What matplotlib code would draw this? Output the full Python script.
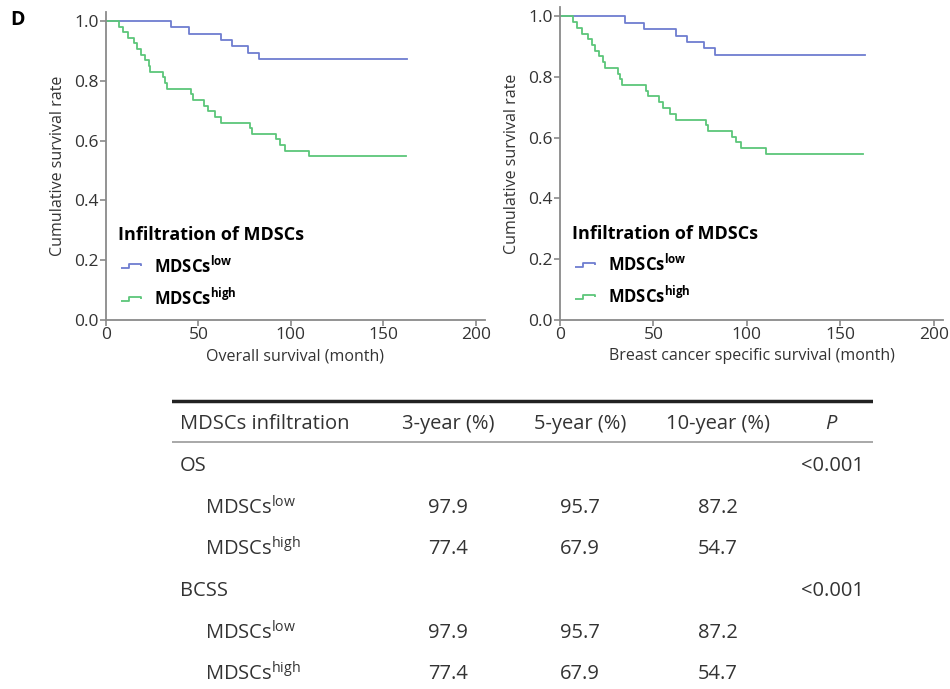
import matplotlib
matplotlib.use("Agg")
from matplotlib import pyplot as plt
from matplotlib.lines import Line2D
from matplotlib.path import Path

# Kaplan-Meier step data (month, survival)
low_times = [0, 35, 45, 62, 68, 77, 83, 163]
low_surv = [1.0, 0.979, 0.957, 0.936, 0.915, 0.894, 0.872, 0.872]

high_times = [0, 7, 9, 12, 15, 17, 19, 21, 23, 24, 31, 32, 33, 46, 47, 53, 55,
              59, 62, 78, 79, 92, 94, 97, 110, 162]
high_surv = [1.0, 0.981, 0.962, 0.943, 0.925, 0.906, 0.887, 0.868, 0.849, 0.830,
             0.811, 0.792, 0.774, 0.755, 0.736, 0.717, 0.698, 0.679, 0.660, 0.642,
             0.623, 0.604, 0.585, 0.566, 0.547, 0.547]

x_labels = ['Overall survival (month)', 'Breast cancer specific survival (month)']

table_header = ['MDSCs infiltration', '3-year (%)', '5-year (%)', '10-year (%)', '$\\mathit{P}$']
table_groups = ['OS', 'BCSS']
table_pvalues = ['<0.001', '<0.001']
low_rates = ['97.9', '95.7', '87.2']
high_rates = ['77.4', '67.9', '54.7']

LOW_COLOR = '#6e7dd0'
HIGH_COLOR = '#5cc67a'
SPINE = '#8a8a8a'

plt.rcParams['font.family'] = ['Open Sans', 'DejaVu Sans']
plt.rcParams['mathtext.fontset'] = 'custom'
plt.rcParams['mathtext.rm'] = 'Open Sans'
plt.rcParams['mathtext.it'] = 'Open Sans:italic'
plt.rcParams['mathtext.bf'] = 'Open Sans:bold'

fig = plt.figure(figsize=(9.5, 6.89), dpi=100)

step_glyph = Path([(-1.0, -0.15), (-0.2, -0.15), (-0.2, 0.15), (1.0, 0.15), (1.0, 0.0)],
                  [Path.MOVETO, Path.LINETO, Path.LINETO, Path.LINETO, Path.LINETO])

axes_boxes = [[106 / 950, 0.5356, 379 / 950, 0.447],
              [560 / 950, 0.5356, 383 / 950, 0.454]]

for box, xlabel in zip(axes_boxes, x_labels):
  ax = fig.add_axes(box)
  ax.step(low_times, low_surv, where='post', color=LOW_COLOR, lw=1.3)
  ax.step(high_times, high_surv, where='post', color=HIGH_COLOR, lw=1.3)
  ax.set_xlim(0, 205)
  ax.set_ylim(0, 1.03)
  ax.set_xticks([0, 50, 100, 150, 200])
  ax.set_yticks([0.0, 0.2, 0.4, 0.6, 0.8, 1.0])
  ax.set_yticklabels(['%.1f' % v for v in ax.get_yticks()])
  for side in ['top', 'right']:
    ax.spines[side].set_visible(False)
  for side in ['left', 'bottom']:
    ax.spines[side].set_color(SPINE)
    ax.spines[side].set_linewidth(1.3)
  ax.tick_params(direction='out', length=4, width=1.2, color=SPINE,
                 labelsize=12.5, labelcolor='#333333', pad=1)
  ax.set_xlabel(xlabel, fontsize=11.5, color='#333333', labelpad=4)
  ax.set_ylabel('Cumulative survival rate', fontsize=11.5, color='#333333', labelpad=6)

  handles = [
    Line2D([], [], color=LOW_COLOR, marker=step_glyph, markersize=15, ls='none',
           markerfacecolor='none', markeredgewidth=1.3),
    Line2D([], [], color=HIGH_COLOR, marker=step_glyph, markersize=15, ls='none',
           markerfacecolor='none', markeredgewidth=1.3),
  ]
  labels = [r'$\mathbf{MDSCs^{low}}$', r'$\mathbf{MDSCs^{high}}$']
  leg = ax.legend(handles, labels, title='Infiltration of MDSCs', loc='upper left',
                  bbox_to_anchor=(0.022, 0.315), frameon=False, fontsize=12,
                  handlelength=1.6, handletextpad=0.6, labelspacing=0.65,
                  borderpad=0.2, borderaxespad=0.0,
                  title_fontproperties={'weight': 'bold', 'size': 13})
  leg._legend_box.align = 'left'

fig.text(10 / 950, 1 - 20 / 689, 'D', fontsize=14, fontweight='bold', va='center')

# table
tab = fig.add_axes([172 / 950, 0.0, 701 / 950, 1 - 395 / 689])
tab.set_xlim(0, 1)
tab.set_ylim(0, 1)
tab.axis('off')

def row_y(py):
  return 1 - (py - 395) / (689 - 395)

col_x = [(448 - 172) / 701, (580 - 172) / 701, (718 - 172) / 701, (832 - 172) / 701]
fs = 14.5
tab.axhline(row_y(401), color='#222222', lw=2.5)
tab.axhline(row_y(442), color='#999999', lw=1.2)

tab.text(8 / 701, row_y(424), table_header[0], fontsize=fs, va='center', color='#333333')
for cx, head in zip(col_x, table_header[1:]):
  tab.text(cx, row_y(424), head, fontsize=fs, va='center', ha='center', color='#333333')

group_rows = [(466, 508, 549), (591, 633, 674)]
for group, pval, (gy, ly, hy) in zip(table_groups, table_pvalues, group_rows):
  tab.text(8 / 701, row_y(gy), group, fontsize=fs, va='center', color='#333333')
  tab.text(col_x[3], row_y(gy), pval, fontsize=fs, va='center', ha='center', color='#333333')
  tab.text(33 / 701, row_y(ly), r'MDSCs$^{\mathrm{low}}$', fontsize=fs, va='center', color='#333333')
  tab.text(33 / 701, row_y(hy), r'MDSCs$^{\mathrm{high}}$', fontsize=fs, va='center', color='#333333')
  for cx, lv, hv in zip(col_x, low_rates, high_rates):
    tab.text(cx, row_y(ly), lv, fontsize=fs, va='center', ha='center', color='#333333')
    tab.text(cx, row_y(hy), hv, fontsize=fs, va='center', ha='center', color='#333333')

fig.savefig('out.png', dpi=100)
